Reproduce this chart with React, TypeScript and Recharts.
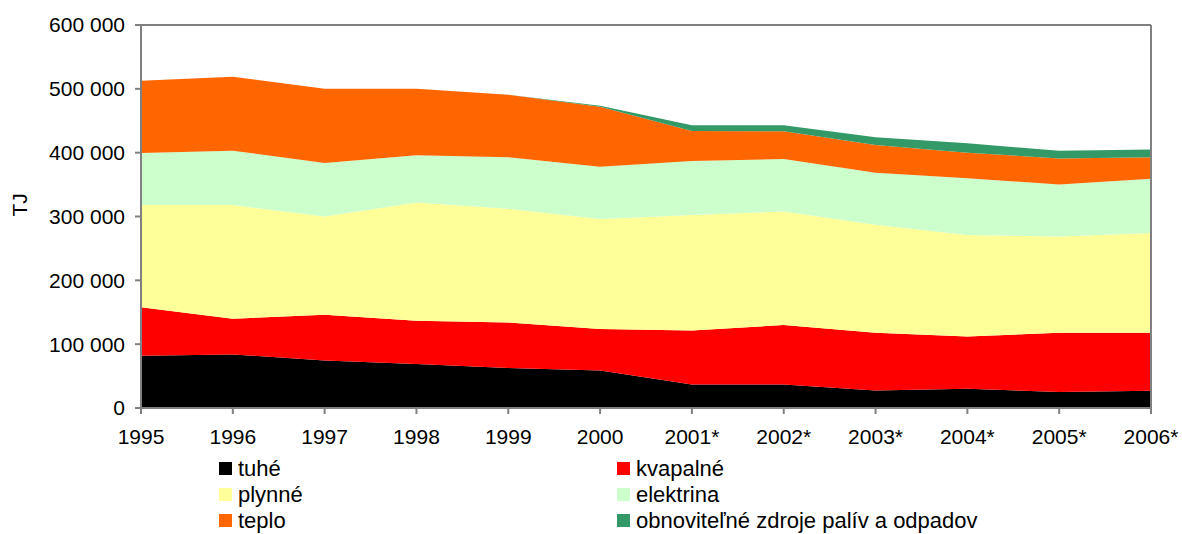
import { AreaChart, Area, XAxis, YAxis, ReferenceLine } from "recharts"

// years on the x axis
const years = ["1995", "1996", "1997", "1998", "1999", "2000", "2001*", "2002*", "2003*", "2004*", "2005*", "2006*"]

// consumption by carrier, TJ
const tuhe = [81800, 83900, 74500, 68900, 62600, 58800, 37000, 37000, 27500, 30000, 25000, 27000]
const kvapalne = [76200, 56100, 71500, 67700, 71400, 64800, 84500, 93000, 90500, 82000, 93000, 91000]
const plynne = [160000, 178000, 154000, 185200, 178000, 172400, 181000, 178000, 169000, 159000, 150600, 156000]
const elektrina = [81500, 85000, 84000, 74200, 81000, 82000, 84500, 82000, 81700, 89000, 81400, 85000]
const teplo = [113200, 116000, 116000, 104000, 97800, 94000, 47000, 43500, 43300, 40000, 41000, 34000]
const obnovitelne = [0, 0, 0, 0, 0, 1500, 9000, 9500, 12000, 14700, 12000, 12000]

const yTicks = [0, 100000, 200000, 300000, 400000, 500000, 600000]

const series = [
  { key: "tuhe", name: "tuhé", color: "#000000" },
  { key: "kvapalne", name: "kvapalné", color: "#FF0000" },
  { key: "plynne", name: "plynné", color: "#FFFF99" },
  { key: "elektrina", name: "elektrina", color: "#CCFFCC" },
  { key: "teplo", name: "teplo", color: "#FF6600" },
  { key: "obnovitelne", name: "obnoviteľné zdroje palív a odpadov", color: "#339966" },
]

const data = years.map((year, i) => ({
  year,
  tuhe: tuhe[i],
  kvapalne: kvapalne[i],
  plynne: plynne[i],
  elektrina: elektrina[i],
  teplo: teplo[i],
  obnovitelne: obnovitelne[i],
}))

const font = "'Liberation Sans', Arial, sans-serif"
const axisColor = "#808080"

const fmt = (v: number) => v.toLocaleString("en-US").replace(/,/g, " ")

export default function App() {
  return (
    <div style={{ position: "relative", width: 1182, height: 534, fontFamily: font, background: "#fff" }}>
      <style>{"body{margin:0}"}</style>
      <AreaChart width={1182} height={534} data={data} margin={{ top: 25, right: 31, left: 0, bottom: 86 }}>
        <XAxis
          dataKey="year"
          interval={0}
          stroke={axisColor}
          strokeWidth={2}
          tickSize={6}
          tickMargin={15}
          tick={{ fill: "#000", fontSize: 21, fontFamily: font }}
          height={40}
        />
        <YAxis
          domain={[0, 600000]}
          ticks={yTicks}
          tickFormatter={fmt}
          width={141}
          stroke={axisColor}
          strokeWidth={2}
          tickSize={6}
          tickMargin={10}
          tick={{ fill: "#000", fontSize: 21, fontFamily: font }}
          label={{ value: "TJ", angle: -90, position: "insideLeft", offset: 20, fill: "#000", fontSize: 21, fontFamily: font }}
        />
        {series.map((s) => (
          <Area
            key={s.key}
            type="linear"
            dataKey={s.key}
            name={s.name}
            stackId="1"
            stroke="none"
            fill={s.color}
            fillOpacity={1}
            isAnimationActive={false}
          />
        ))}
        <ReferenceLine y={600000} stroke={axisColor} strokeWidth={2} />
        <ReferenceLine x="2006*" stroke={axisColor} strokeWidth={2} />
      </AreaChart>

      {/* legend, two columns like the original */}
      <div
        style={{
          position: "absolute",
          left: 219,
          top: 457,
          display: "grid",
          gridTemplateColumns: "398px 420px",
          rowGap: 3,
          fontSize: 22,
          lineHeight: "23px",
          color: "#000",
        }}
      >
        {series.map((s) => (
          <div key={s.key} style={{ display: "flex", alignItems: "center", whiteSpace: "nowrap" }}>
            <span style={{ display: "inline-block", width: 13, height: 13, background: s.color, marginRight: 6 }} />
            {s.name}
          </div>
        ))}
      </div>
    </div>
  )
}
